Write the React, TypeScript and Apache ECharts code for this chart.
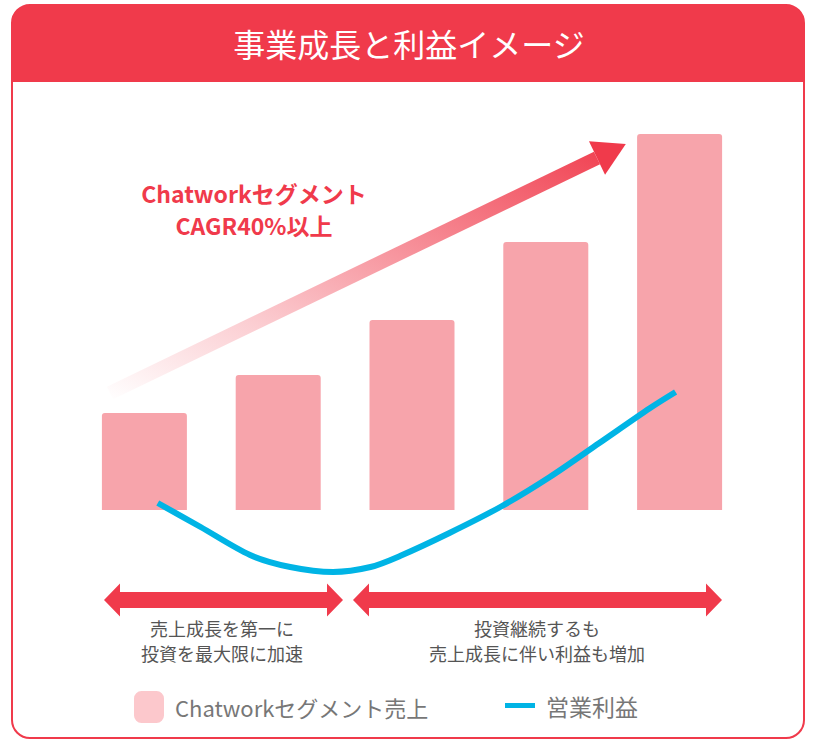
import { useEffect, useRef } from 'react';
import * as echarts from 'echarts';

// periods (hidden category axis)
const periods = ['Y1', 'Y2', 'Y3', 'Y4', 'Y5'];
// Chatwork segment sales (arbitrary units, ~40% CAGR)
const salesValues = [97, 135, 190, 268, 376];
// operating profit curve: [position along periods, value]
const profitPoints: [number, number][] = [
    [0.6, 7],
    [0.92, -17],
    [1.29, -45],
    [1.59, -57],
    [1.91, -62],
    [2.19, -57],
    [2.41, -46],
    [2.78, -23],
    [3.16, 3],
    [3.53, 33],
    [3.9, 67],
    [4.28, 102],
    [4.47, 118],
];

const salesName = 'Chatworkセグメント売上';
const profitName = '営業利益';
const titleText = '事業成長と利益イメージ';
const cagrLines = ['Chatworkセグメント', 'CAGR40%以上'];
const phaseLeft = ['売上成長を第一に', '投資を最大限に加速'];
const phaseRight = ['投資継続するも', '売上成長に伴い利益も増加'];

const RED = '#f03a4b';
const FONT = "'Noto Sans CJK JP', 'Noto Sans', sans-serif";

// double-headed arrow polygon
function doubleArrow(x1: number, x2: number, cy: number) {
    const head = 16;
    const hh = 16.5;
    const sh = 8;
    return [
        [x1, cy],
        [x1 + head, cy - hh],
        [x1 + head, cy - sh],
        [x2 - head, cy - sh],
        [x2 - head, cy - hh],
        [x2, cy],
        [x2 - head, cy + hh],
        [x2 - head, cy + sh],
        [x1 + head, cy + sh],
        [x1 + head, cy + hh],
    ];
}

function textEl(text: string, x: number, y: number, size: number, color: string, weight: string = 'normal') {
    return {
        type: 'text',
        style: {
            text,
            x,
            y,
            align: 'center',
            verticalAlign: 'middle',
            fontSize: size,
            fontWeight: weight,
            fontFamily: FONT,
            fill: color,
        },
    };
}

export default function App() {
    const chartRef = useRef<HTMLDivElement>(null);

    useEffect(() => {
        if (!chartRef.current) return;
        const chart = echarts.init(chartRef.current, null, { renderer: 'svg' });

        // growth arrow geometry
        const tail = [110, 393];
        const base = [597, 158];
        const dx = base[0] - tail[0];
        const dy = base[1] - tail[1];
        const len = Math.sqrt(dx * dx + dy * dy);
        const ux = dx / len;
        const uy = dy / len;
        const nx = -uy;
        const ny = ux;
        const w = 7;
        const hw = 18.5;
        const shaft = [
            [tail[0] - nx * w, tail[1] - ny * w],
            [base[0] - nx * w, base[1] - ny * w],
            [base[0] + nx * w, base[1] + ny * w],
            [tail[0] + nx * w, tail[1] + ny * w],
        ];
        const head = [
            [base[0] + ux * 32, base[1] + uy * 32],
            [base[0] - nx * hw, base[1] - ny * hw],
            [base[0] + nx * hw, base[1] + ny * hw],
        ];

        chart.setOption({
            animation: false,
            textStyle: { fontFamily: FONT },
            title: {
                text: titleText,
                left: 'center',
                top: 27,
                padding: 0,
                textStyle: { color: '#fff', fontSize: 32, fontWeight: 'normal', fontFamily: FONT },
            },
            legend: [
                {
                    left: 134,
                    top: 691,
                    padding: 0,
                    selectedMode: false,
                    itemWidth: 30,
                    itemHeight: 32,
                    data: [{ name: salesName, icon: 'roundRect', itemStyle: { color: '#fcc8cc' } }],
                    textStyle: { fontSize: 22, color: '#777', padding: [0, 0, 0, 6] },
                },
                {
                    left: 505,
                    top: 694,
                    padding: 0,
                    selectedMode: false,
                    itemWidth: 30,
                    itemHeight: 5,
                    data: [{ name: profitName, icon: 'rect', itemStyle: { color: '#00b4e5' } }],
                    textStyle: { fontSize: 23, color: '#777', padding: [0, 0, 0, 6] },
                },
            ],
            grid: { left: 77.5, right: 71.5, top: 110, bottom: 134 },
            xAxis: [
                { type: 'category', data: periods, show: false },
                { type: 'value', min: 0, max: 5, show: false },
            ],
            yAxis: { type: 'value', min: -100, max: 400, show: false },
            series: [
                {
                    name: salesName,
                    type: 'bar',
                    data: salesValues,
                    barWidth: 85,
                    itemStyle: { color: '#f7a4ab', borderRadius: [3, 3, 0, 0] },
                },
                {
                    name: profitName,
                    type: 'line',
                    xAxisIndex: 1,
                    data: profitPoints,
                    smooth: 0.3,
                    symbol: 'none',
                    color: '#00b4e5',
                    lineStyle: { width: 6, color: '#00b4e5', cap: 'butt' },
                    itemStyle: { color: '#00b4e5' },
                },
            ],
            graphic: [
                // card frame
                {
                    type: 'rect',
                    shape: { x: 12, y: 5, width: 792, height: 733, r: 18 },
                    style: { fill: 'none', stroke: RED, lineWidth: 2 },
                    z: -10,
                },
                {
                    type: 'rect',
                    shape: { x: 12, y: 5, width: 792, height: 77, r: [18, 18, 0, 0] },
                    style: { fill: RED },
                    z: -9,
                },
                // growth arrow
                {
                    type: 'polygon',
                    shape: { points: shaft },
                    style: {
                        fill: new echarts.graphic.LinearGradient(0, 1, 1, 0, [
                            { offset: 0, color: 'rgba(240,58,75,0)' },
                            { offset: 0.3, color: 'rgba(240,58,75,0.25)' },
                            { offset: 0.6, color: 'rgba(240,58,75,0.55)' },
                            { offset: 1, color: 'rgba(240,58,75,0.95)' },
                        ]),
                    },
                },
                { type: 'polygon', shape: { points: head }, style: { fill: RED } },
                textEl(cagrLines[0], 254, 193, 23, RED, 'bold'),
                textEl(cagrLines[1], 254, 225, 23, RED, 'bold'),
                // phase arrows
                { type: 'polygon', shape: { points: doubleArrow(104, 343, 600) }, style: { fill: RED } },
                { type: 'polygon', shape: { points: doubleArrow(353, 722, 600) }, style: { fill: RED } },
                textEl(phaseLeft[0], 222, 628, 18, '#555'),
                textEl(phaseLeft[1], 222, 653, 18, '#555'),
                textEl(phaseRight[0], 537, 628, 18, '#555'),
                textEl(phaseRight[1], 537, 653, 18, '#555'),
            ],
        });

        return () => {
            chart.dispose();
        };
    }, []);

    return (
        <div
            ref={chartRef}
            style={{ position: 'fixed', left: 0, top: 0, width: 818, height: 744, background: '#fff' }}
        />
    );
}
